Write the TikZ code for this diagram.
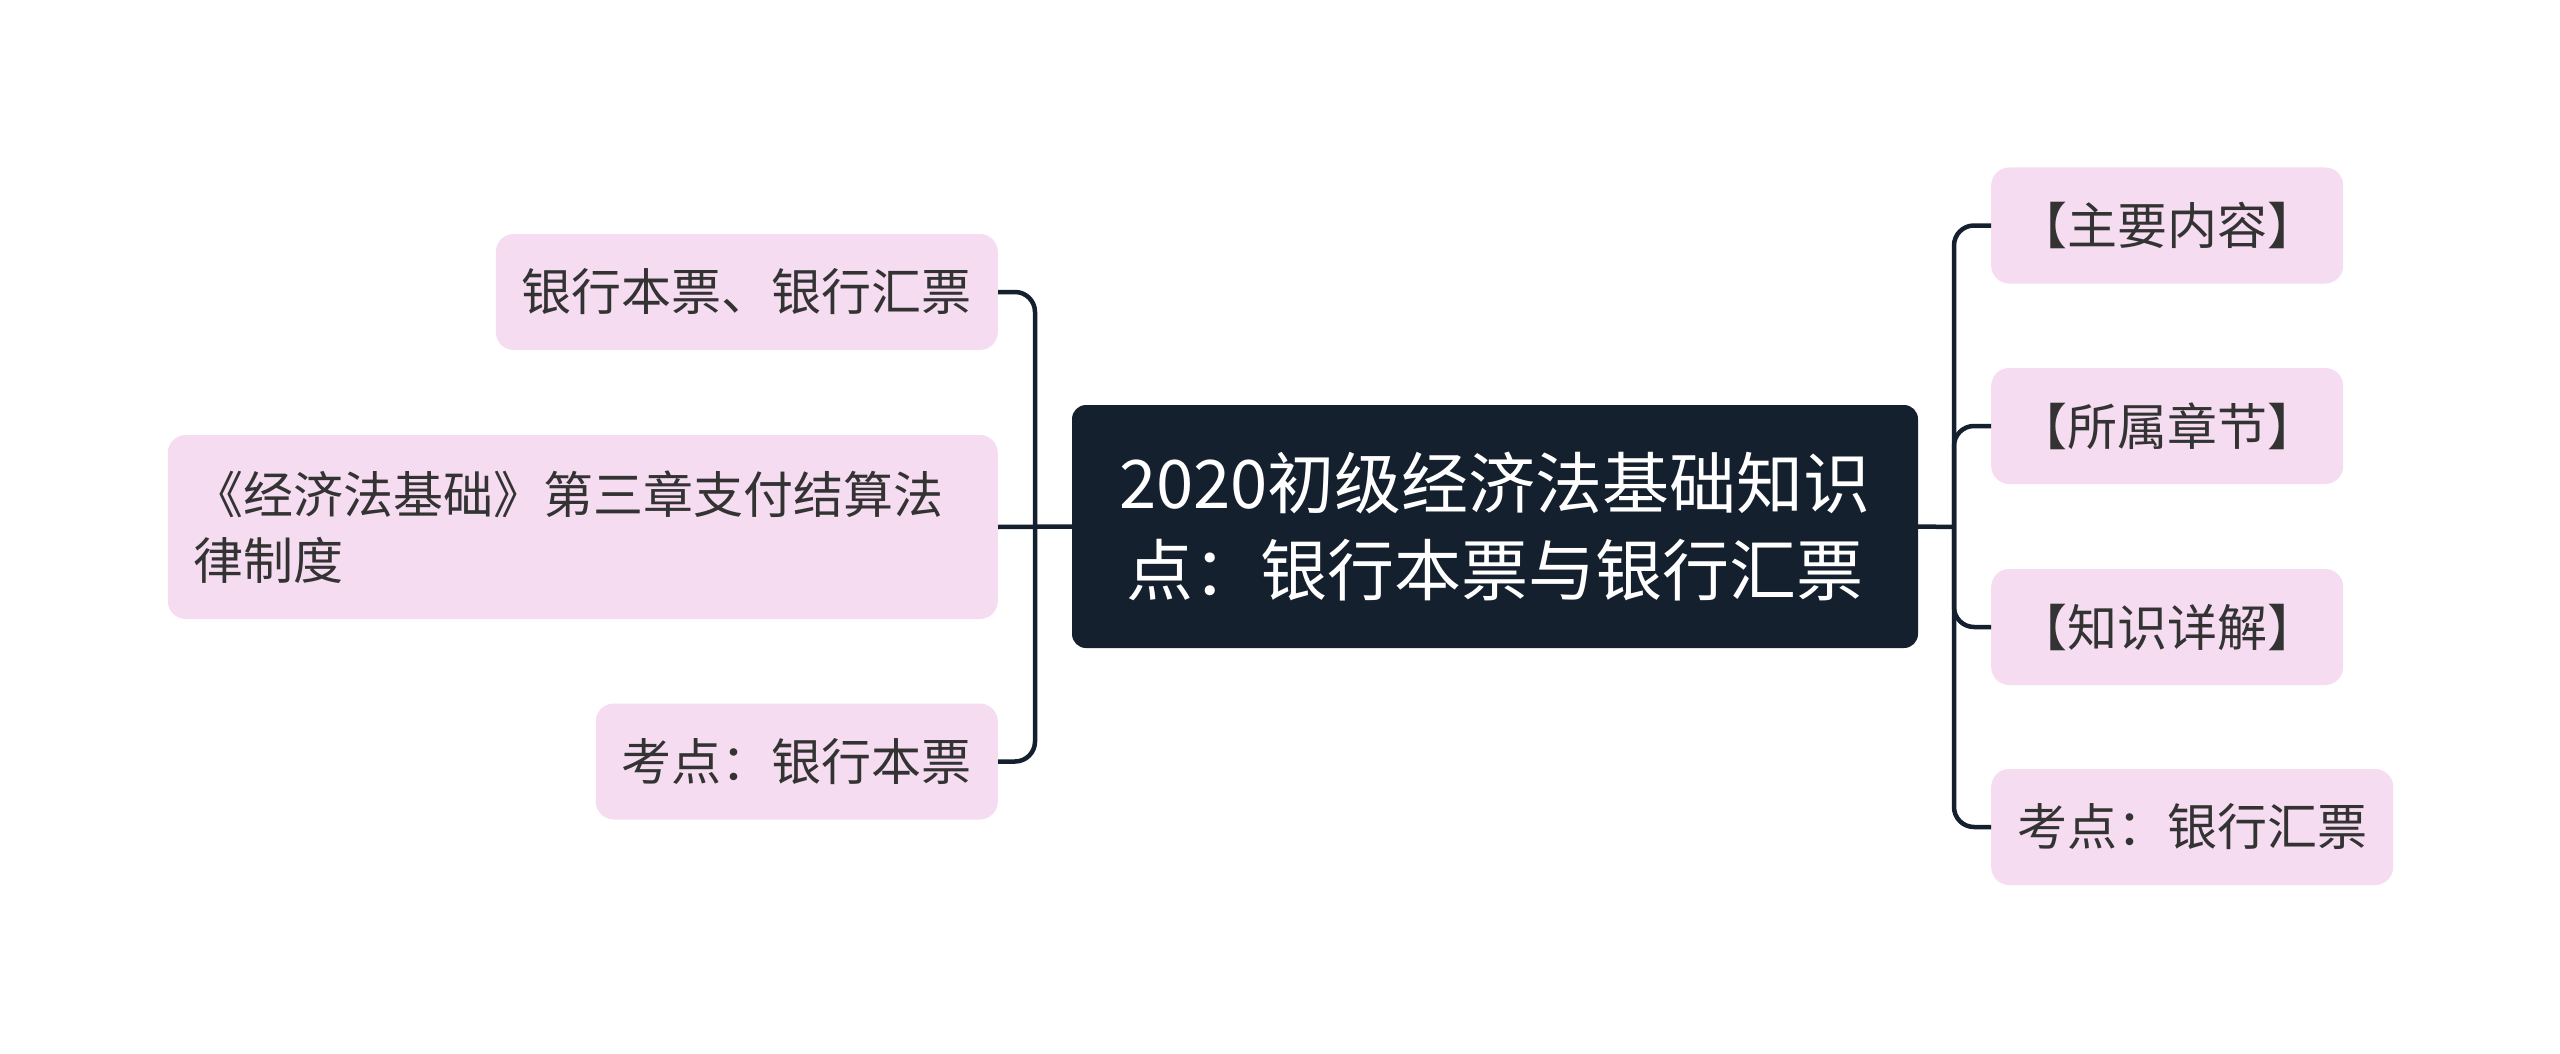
\documentclass[tikz,border=0pt]{standalone}
\usepackage{fontspec}
\usepackage{tikz}
\usetikzlibrary{arrows.meta, shapes}
\newfontfamily\cjk{Noto Sans CJK SC}
\definecolor{rootfill}{HTML}{15202F}
\definecolor{leaffill}{HTML}{F5DCF0}
\definecolor{leaftext}{HTML}{333333}

\begin{document}
\begin{tikzpicture}[x=1pt, y=-1pt, line join=round,
	every node/.style={font=\cjk\fontsize{50}{66}\selectfont},
	leaf/.style={fill=leaffill, text=leaftext, rounded corners=18pt, inner xsep=26pt, inner ysep=0pt, minimum height=116pt},
	root/.style={fill=rootfill, text=white, rounded corners=14pt, minimum width=846pt, minimum height=243pt, align=center, font=\cjk\fontsize{67}{87}\selectfont},
	link/.style={draw=rootfill, line width=4.5pt, rounded corners=20pt}]
	\useasboundingbox (0,0) rectangle (2560,1054);
	\node[root] (root) at (1495,526.5) {2020初级经济法基础知识\\点：银行本票与银行汇票};
	% left side
	\node[leaf, anchor=east] (bankbills) at (998,292) {银行本票、银行汇票};
	\node[leaf, anchor=east, minimum height=184pt, text width=778pt, align=left] (chapter) at (998,527) {《经济法基础》第三章支付结算法\\律制度};
	\node[leaf, anchor=east] (cashier) at (998,761.5) {考点：银行本票};
	% right side
	\node[leaf, anchor=west] (content) at (1991,225.5) {【主要内容】};
	\node[leaf, anchor=west] (section) at (1991,426) {【所属章节】};
	\node[leaf, anchor=west] (detail) at (1991,627) {【知识详解】};
	\node[leaf, anchor=west] (draft) at (1991,827) {考点：银行汇票};
	\coordinate (lhub) at (1035,527);
	\coordinate (rhub) at (1954,527);
	\draw[link] (root.west) -- (chapter.east);
	\draw[link] (lhub) |- (bankbills.east);
	\draw[link] (lhub) |- (cashier.east);
	\draw[link] (root.east) -- (rhub);
	\foreach \leafname in {content, section, detail, draft}
		\draw[link] (rhub) |- (\leafname.west);
\end{tikzpicture}
\end{document}
